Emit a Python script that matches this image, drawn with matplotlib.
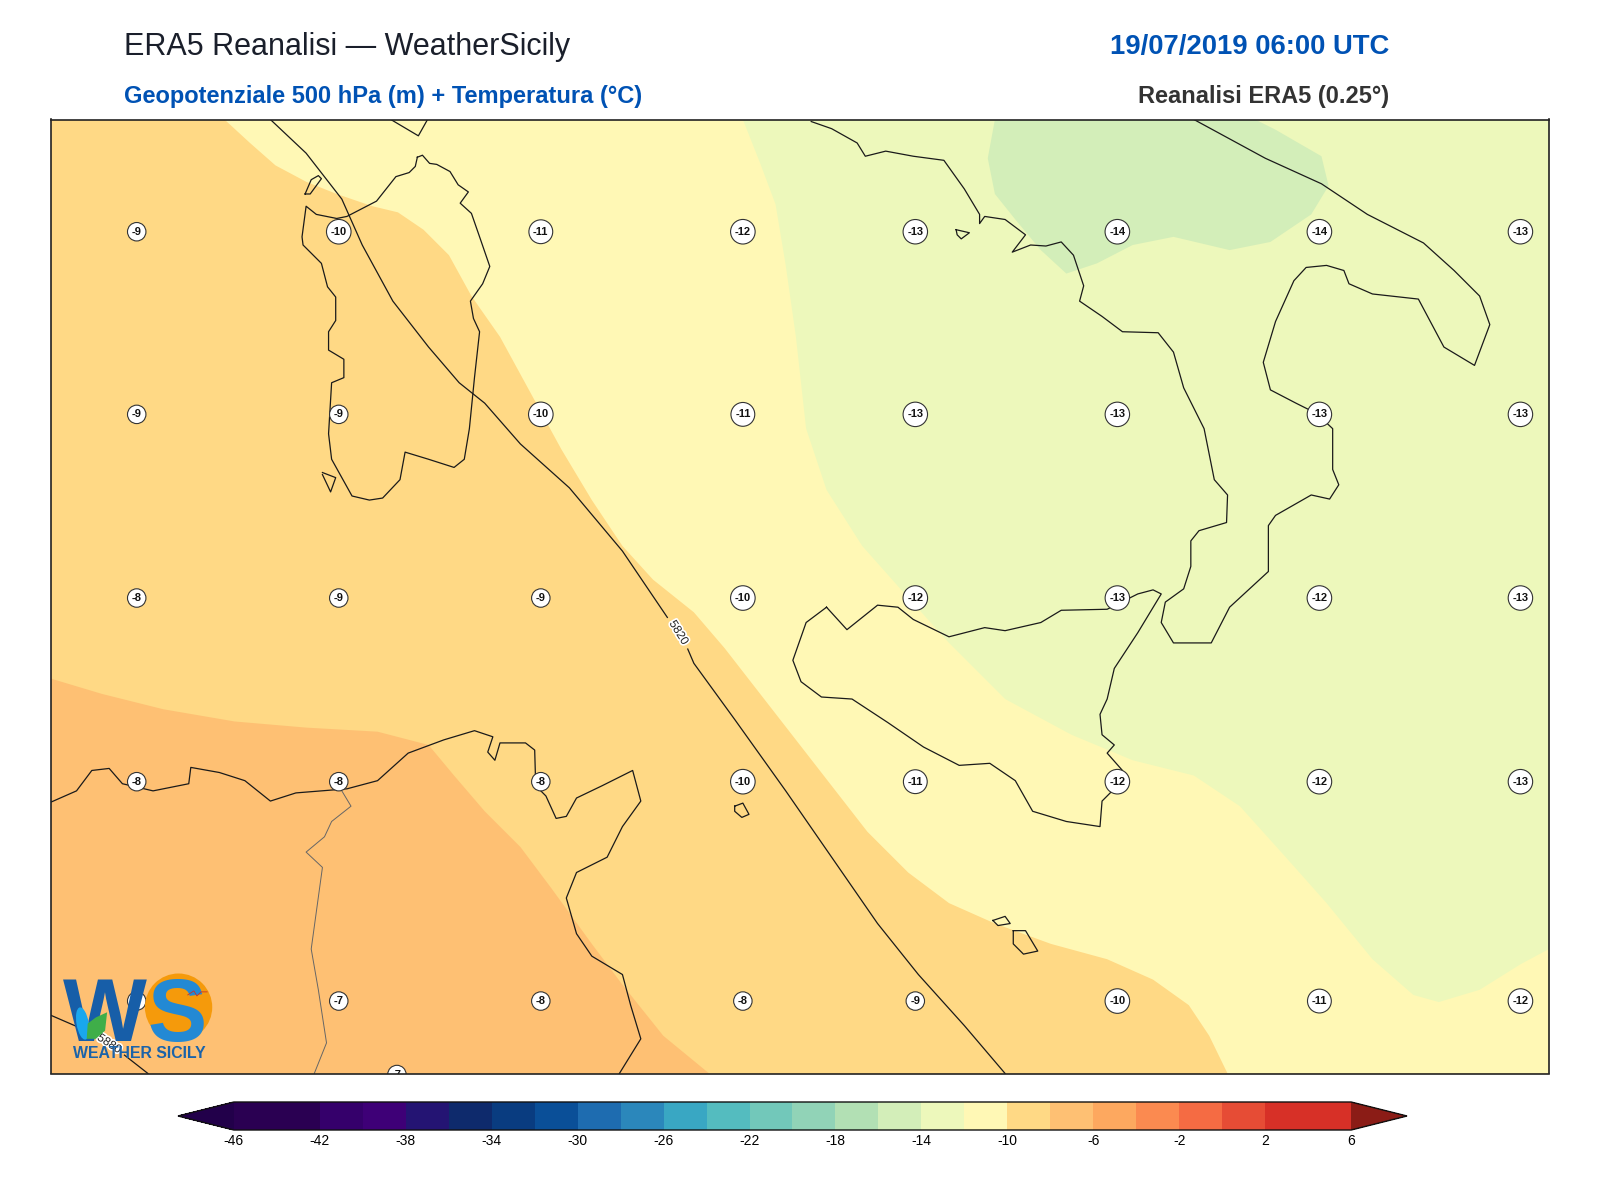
import numpy as np
import matplotlib
matplotlib.use('Agg')
import matplotlib.pyplot as plt
import matplotlib.patheffects as pe
from matplotlib.colors import ListedColormap, BoundaryNorm
from matplotlib.colorbar import ColorbarBase
from matplotlib.patches import Circle, Ellipse, Polygon

plt.rcParams['font.family'] = ['Liberation Sans', 'DejaVu Sans']

# map units are the digitised positions
XMIN, XMAX, YBOTTOM, YTOP = 50, 1518, 1052, 117

# temperature station values
col_x = [134, 332, 530, 728, 897, 1095, 1293, 1490]
row_y = [227, 406, 586, 766, 981]
temps = [
    [-9, -10, -11, -12, -13, -14, -14, -13],
    [-9, -9, -10, -11, -13, -13, -13, -13],
    [-8, -9, -9, -10, -12, -13, -12, -13],
    [-8, -8, -8, -10, -11, -12, -12, -13],
    [-7, -7, -8, -8, -9, -10, -11, -12],
]
extra_temp = (389, 1053, -7)

# colour band boundaries
band_10 = [(220, 117), (245, 140), (270, 162), (300, 178), (330, 190), (365, 202), (390, 208), (415, 225),
           (440, 250), (462, 290), (490, 330), (520, 385), (550, 440), (580, 490), (610, 535), (640, 568),
           (680, 600), (710, 635), (745, 680), (780, 725), (815, 770), (850, 815), (890, 855), (930, 885),
           (975, 905), (1030, 925), (1085, 940), (1130, 960), (1165, 985), (1185, 1015), (1203, 1052),
           (1518, 1052), (1518, 117)]
band_8 = [(50, 665), (100, 680), (160, 695), (230, 707), (300, 713), (370, 717), (420, 730), (445, 760),
          (475, 795), (510, 830), (540, 870), (580, 925), (610, 965), (650, 1015), (695, 1052), (50, 1052)]
band_12 = [(728, 117), (745, 160), (760, 200), (770, 260), (780, 330), (790, 420), (810, 480), (845, 535),
           (885, 580), (930, 630), (985, 685), (1050, 720), (1110, 745), (1170, 760), (1215, 790), (1260, 840),
           (1300, 885), (1345, 940), (1385, 975), (1410, 982), (1450, 970), (1490, 945), (1518, 930), (1518, 117)]
band_14 = [(975, 117), (968, 155), (975, 190), (995, 215), (1020, 245), (1045, 268), (1075, 258), (1110, 240),
           (1150, 232), (1205, 245), (1245, 237), (1285, 210), (1302, 182), (1295, 153), (1250, 127), (1230, 117)]

# geopotential isolines, broken where the label sits
iso_5820_a = [(265, 117), (300, 150), (335, 195), (355, 240), (385, 295), (420, 340), (450, 375), (475, 395),
              (510, 435), (558, 478), (610, 540), (654, 605)]
iso_5820_b = [(674, 636), (680, 650), (720, 705), (770, 775), (815, 840), (860, 905), (900, 955), (945, 1005),
              (985, 1052)]
iso_5880_a = [(50, 995), (80, 1008), (92, 1014)]
iso_5880_b = [(122, 1034), (145, 1052)]
iso_labels = [(665, 620, '5820', -58), (107, 1023, '5880', -33)]

# coastlines
sardinia = [(409, 154), (414, 152), (421, 160), (428, 161), (441, 168), (449, 181), (459, 188), (451, 199),
            (462, 209), (470, 232), (480, 261), (473, 278), (461, 295), (464, 312), (470, 325), (465, 370),
            (460, 420), (455, 450), (445, 458), (420, 450), (397, 443), (392, 470), (375, 488), (362, 490),
            (345, 486), (325, 450), (322, 425), (325, 375), (337, 370), (337, 352), (322, 343), (322, 325),
            (329, 314), (329, 291), (321, 281), (315, 258), (297, 240), (296, 232), (300, 202), (310, 210),
            (330, 214), (340, 212), (369, 197), (388, 173), (401, 169), (407, 163), (409, 154)]
corsica = [(383, 117), (410, 133), (419, 117)]
asinara = [(299, 190), (304, 190), (315, 175), (312, 172), (305, 176), (299, 190)]
antioco = [(316, 463), (329, 468), (324, 482), (316, 465)]
italy = [(795, 119), (815, 126), (840, 140), (848, 153), (868, 148), (895, 153), (925, 157), (945, 185),
         (960, 210), (960, 219), (965, 212), (985, 215), (1005, 230), (992, 247), (1010, 240), (1025, 241),
         (1040, 237), (1052, 250), (1062, 280), (1058, 295), (1080, 310), (1100, 325), (1135, 326), (1150, 345),
         (1160, 380), (1180, 420), (1190, 470), (1203, 485), (1202, 512), (1175, 520), (1167, 530), (1167, 555),
         (1160, 577), (1142, 590), (1138, 610), (1150, 630), (1187, 630), (1205, 595), (1243, 560), (1243, 515),
         (1250, 505), (1285, 485), (1303, 489), (1312, 475), (1306, 460), (1306, 420), (1290, 405), (1270, 395),
         (1245, 382), (1238, 355), (1250, 315), (1268, 275), (1280, 262), (1300, 260), (1317, 265), (1322, 278),
         (1345, 288), (1390, 293), (1415, 340), (1445, 358), (1460, 318), (1450, 290), (1425, 265), (1395, 238),
         (1340, 210), (1295, 180), (1240, 155), (1170, 117)]
elba = [(937, 225), (950, 228), (942, 234), (938, 230), (937, 225)]
sicily = [(810, 595), (830, 617), (845, 605), (860, 593), (880, 595), (895, 607), (930, 624), (965, 615),
          (985, 618), (1020, 610), (1040, 598), (1085, 597), (1115, 582), (1130, 578), (1138, 582), (1115, 620),
          (1092, 655), (1085, 685), (1078, 700), (1080, 720), (1092, 730), (1085, 738), (1100, 755), (1090, 775),
          (1080, 785), (1078, 810), (1045, 805), (1012, 795), (995, 765), (970, 748), (940, 750), (905, 732),
          (870, 708), (835, 685), (805, 683), (785, 668), (777, 647), (790, 610), (810, 595)]
africa = [(50, 786), (75, 775), (90, 755), (107, 753), (120, 768), (150, 775), (185, 768), (187, 752),
          (215, 757), (240, 765), (265, 785), (290, 777), (340, 773), (370, 765), (400, 738), (435, 725),
          (465, 716), (483, 722), (478, 737), (485, 745), (490, 728), (515, 728), (524, 735), (525, 770),
          (535, 780), (545, 802), (555, 800), (565, 782), (590, 770), (620, 755), (628, 785), (610, 810),
          (595, 840), (565, 855), (555, 880), (565, 915), (580, 937), (610, 955), (618, 985), (628, 1018),
          (607, 1052)]
pantelleria = [(720, 790), (728, 787), (734, 798), (727, 801), (720, 795), (720, 790)]
malta = [(993, 912), (1005, 912), (1017, 932), (1003, 935), (993, 925), (993, 912)]
gozo = [(973, 902), (985, 898), (990, 905), (978, 907), (973, 902)]
coast_lines = [sardinia, corsica, asinara, antioco, italy, elba, sicily, africa, pantelleria, malta, gozo]
border = [(335, 775), (344, 790), (325, 805), (318, 820), (300, 835), (316, 850), (305, 930), (312, 970),
          (320, 1022), (308, 1052)]

# colorbar
cbar_levels = list(range(-46, 8, 2))
cbar_ticks = list(range(-46, 8, 4))
cbar_colors = ['#2a0052', '#2a0052', '#35006b', '#3e0077', '#241473', '#0e2a6c', '#093c80', '#0a4f98',
               '#1e6cb0', '#2b87bb', '#39a7c3', '#54bcbf', '#72c8ba', '#91d3b7', '#b2e0b4', '#d3eeb9',
               '#edf8bb', '#fff8b5', '#ffd985', '#fec073', '#fda85f', '#fb8a50', '#f56b43', '#e64c35',
               '#d73027', '#d73027']
under_color = '#22004a'
over_color = '#8b1c16'

W, H = 1600, 1200
fig = plt.figure(figsize=(W / 100, H / 100), dpi=100)

ax = fig.add_axes([51 / W, 1 - 1073.5 / H, (1549 - 51) / W, (1073.5 - 119.5) / H])
ax.set_xlim(XMIN, XMAX)
ax.set_ylim(YBOTTOM, YTOP)
ax.set_xticks([])
ax.set_yticks([])
ax.set_facecolor('#ffd985')
for s in ax.spines.values():
    s.set_linewidth(1.2)
    s.set_color('#222222')
    s.set_zorder(20)

ax.fill(*zip(*band_10), color='#fff8b5', lw=0, zorder=1)
ax.fill(*zip(*band_12), color='#edf8bb', lw=0, zorder=2)
ax.fill(*zip(*band_14), color='#d3eeb9', lw=0, zorder=3)
ax.fill(*zip(*band_8), color='#fec073', lw=0, zorder=2)

for line in coast_lines:
    ax.plot(*zip(*line), color='#1a1a1a', lw=0.9, zorder=5)
ax.plot(*zip(*border), color='#666666', lw=0.7, zorder=5)

for iso in [iso_5820_a, iso_5820_b, iso_5880_a, iso_5880_b]:
    ax.plot(*zip(*iso), color='#1a1a1a', lw=0.9, zorder=6)
for x, y, label, rot in iso_labels:
    ax.text(x, y, label, fontsize=8.5, rotation=rot, ha='center', va='center', color='#222222', zorder=7,
            rotation_mode='anchor', path_effects=[pe.withStroke(linewidth=2.5, foreground='white')])

circle_box = dict(boxstyle='circle,pad=0.38', fc='white', ec='#333333', lw=0.8)
for y, row in zip(row_y, temps):
    for x, t in zip(col_x, row):
        ax.text(x, y, str(t), fontsize=8, fontweight='bold', ha='center', va='center', color='#111111',
                bbox=circle_box, zorder=8)
ax.text(extra_temp[0], extra_temp[1], str(extra_temp[2]), fontsize=8, fontweight='bold', ha='center', va='center',
        color='#111111', bbox=circle_box, zorder=8, clip_on=True)

# logo
ax.add_patch(Circle((175, 987), 33, fc='#f59a0b', ec='none', zorder=9))
ax.text(62, 1020, 'W', fontsize=64, fontweight='bold', color='#175ea8', ha='left', va='baseline', zorder=10)
ax.text(145, 1020, 'S', fontsize=64, fontweight='bold', color='#2389d4', ha='left', va='baseline', zorder=11)
ax.add_patch(Ellipse((81, 1003), 12, 32, angle=-10, fc='#19a7ee', ec='none', zorder=11))
ax.add_patch(Polygon([(85, 1018), (86, 1003), (94, 997), (105, 992), (103, 1010), (94, 1018)],
                     fc='#3fae49', ec='none', zorder=12))
ax.plot([184, 190, 193, 197, 203], [975, 971, 976, 972, 972], color='#c8322b', lw=0.6, zorder=12)
ax.text(137, 1032, 'WEATHER SICILY', fontsize=11.4, fontweight='bold', color='#1b63a9', ha='center', va='center',
        zorder=12)

# titles
fig.text(124 / W, 1 - 55 / H, 'ERA5 Reanalisi — WeatherSicily', fontsize=22, color='#1a1f2b', ha='left',
         va='baseline')
fig.text(1389 / W, 1 - 54 / H, '19/07/2019 06:00 UTC', fontsize=19.8, fontweight='bold', color='#0052b4',
         ha='right', va='baseline')
fig.text(124 / W, 1 - 103 / H, 'Geopotenziale 500 hPa (m) + Temperatura (°C)', fontsize=17, fontweight='bold',
         color='#0052b4', ha='left', va='baseline')
fig.text(1389 / W, 1 - 103 / H, 'Reanalisi ERA5 (0.25°)', fontsize=17, fontweight='bold', color='#333333',
         ha='right', va='baseline')

# colorbar, the axes box includes the two end arrows
cax = fig.add_axes([178 / W, 1 - 1130 / H, (1407 - 178) / W, (1130 - 1102) / H])
cmap = ListedColormap(cbar_colors)
cmap.set_under(under_color)
cmap.set_over(over_color)
norm = BoundaryNorm(cbar_levels, cmap.N)
cb = ColorbarBase(cax, cmap=cmap, norm=norm, orientation='horizontal', extend='both', extendfrac=0.05,
                  spacing='proportional', ticks=cbar_ticks, drawedges=False)
cb.ax.tick_params(length=0, labelsize=10, pad=3)
cb.ax.minorticks_off()
cb.outline.set_linewidth(1.0)
cb.outline.set_edgecolor('#111111')
cb.ax.set_xticklabels([str(t) for t in cbar_ticks])

fig.savefig('out.png', dpi=100)
